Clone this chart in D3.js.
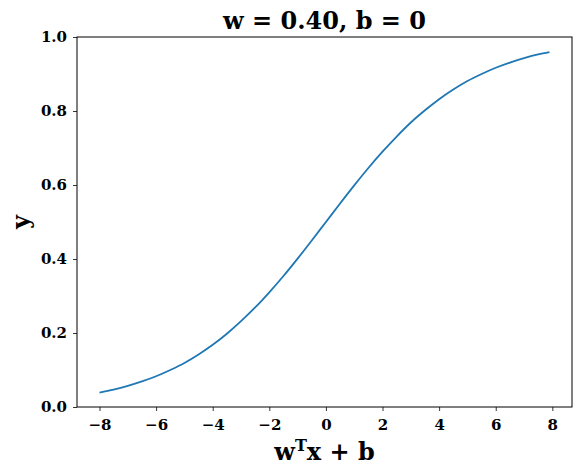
<!DOCTYPE html>
<html><head><meta charset="utf-8">
<script src="https://d3js.org/d3.v7.min.js"></script>
<style>
body{margin:0;background:#fff;}
text{font-family:"DejaVu Serif",serif;font-weight:bold;}
</style></head>
<body><svg id="c" width="585" height="475"></svg>
<script>
const xValues = [-8,-7.5,-7,-6.5,-6,-5.5,-5,-4.5,-4,-3.5,-3,-2.5,-2,-1.5,-1,-0.5,0,0.5,1,1.5,2,2.5,3,3.5,4,4.5,5,5.5,6,6.5,7,7.5,7.9];
const yValues = [0.039,0.047,0.057,0.069,0.083,0.100,0.119,0.142,0.168,0.198,0.232,0.269,0.310,0.354,0.401,0.450,0.500,0.550,0.599,0.646,0.690,0.731,0.769,0.802,0.832,0.858,0.881,0.900,0.917,0.931,0.943,0.953,0.959];
const xTicks = [-8,-6,-4,-2,0,2,4,6,8];
const yTicks = [0.0,0.2,0.4,0.6,0.8,1.0];
const titleText = "w = 0.40, b = 0";

const svg = d3.select("#c");
const L=77,R=572,T=37,B=407;
const x = d3.scaleLinear().domain([-8.795,8.695]).range([L,R]);
const y = d3.scaleLinear().domain([0,1]).range([B,T]);

const fs = 15;
const xa = svg.append("g").attr("transform",`translate(0,${B})`)
  .call(d3.axisBottom(x).tickValues(xTicks).tickSize(4).tickPadding(8).tickFormat(d=>d<0?"\u2212"+(-d):d));
const ya = svg.append("g").attr("transform",`translate(${L},0)`)
  .call(d3.axisLeft(y).tickValues(yTicks).tickSize(4).tickPadding(6).tickFormat(d3.format(".1f")));
[xa,ya].forEach(a=>{a.select(".domain").remove();a.selectAll("line").attr("stroke","#000").attr("stroke-width",0.8);
  a.selectAll("text").attr("font-size",fs).attr("font-family","DejaVu Serif").attr("font-weight","bold").attr("fill","#000");});

svg.append("rect").attr("x",L).attr("y",T).attr("width",R-L).attr("height",B-T)
  .attr("fill","none").attr("stroke","#000").attr("stroke-width",1);

const line = d3.line().x((d,i)=>x(xValues[i])).y(d=>y(d)).curve(d3.curveMonotoneX);
svg.append("path").datum(yValues).attr("d",line).attr("fill","none").attr("stroke","#1f77b4").attr("stroke-width",1.8);

svg.append("text").attr("x",(L+R)/2).attr("y",29).attr("text-anchor","middle").attr("font-size",24).text(titleText);
const xl = svg.append("text").attr("x",(L+R)/2).attr("y",460).attr("text-anchor","middle").attr("font-size",24);
xl.append("tspan").text("w");
xl.append("tspan").attr("dy",-9).attr("font-size",16).text("T");
xl.append("tspan").attr("dy",9).text("x + b");
svg.append("text").attr("transform",`translate(29,${(T+B)/2}) rotate(-90)`).attr("text-anchor","middle").attr("font-size",24).text("y");
</script></body></html>
